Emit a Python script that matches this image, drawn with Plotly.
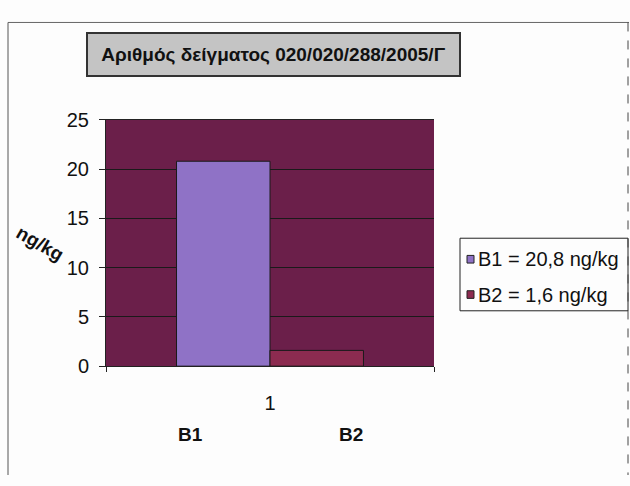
import plotly.graph_objects as go

# Sample results (ng/kg)
series_names = ["B1 = 20,8 ng/kg", "B2 = 1,6 ng/kg"]
series_values = [20.8, 1.6]
category = [1]
bar_colors = ["#8f72c6", "#8c2b50"]
bottom_labels = ["B1", "B2"]
title_text = "Αριθμός δείγματος 020/020/288/2005/Γ"
y_ticks = [0, 5, 10, 15, 20, 25]

W, H = 630, 486
FONT = "Liberation Sans, Arial, sans-serif"
INK = "#111111"


def px_x(v):
    return v / W


def px_y(v):
    return (H - v) / H


fig = go.Figure()
for name, val, col in zip(series_names, series_values, bar_colors):
    fig.add_trace(go.Bar(
        x=category, y=[val], name=name,
        marker=dict(color=col, line=dict(color="#1a1a1a", width=1)),
    ))

fig.update_layout(
    width=W, height=H,
    margin=dict(l=0, r=0, t=0, b=0),
    paper_bgcolor="#fdfdfd",
    plot_bgcolor="#6b1f4a",
    barmode="group",
    bargap=0.43,
    bargroupgap=0,
    font=dict(family=FONT, color=INK),
    showlegend=False,
    xaxis=dict(
        domain=[px_x(106), px_x(434)],
        range=[0.5, 1.5],
        tickvals=[1], ticktext=["1"],
        ticks="", showgrid=False,
        showline=True, linecolor="#222222", linewidth=1, mirror=True,
        tickfont=dict(size=20, family=FONT, color=INK),
        ticklabelstandoff=19,
        minor=dict(tickvals=[0.5, 1.5], ticks="outside", ticklen=5,
                   tickcolor="#222222", showgrid=False),
        zeroline=False,
    ),
    yaxis=dict(
        domain=[px_y(372), px_y(114)],
        range=[0, 25],
        tickvals=y_ticks,
        ticks="outside", ticklen=6, tickcolor="#222222",
        showgrid=True, gridcolor="#1a1a1a", gridwidth=1,
        showline=True, linecolor="#222222", linewidth=1,
        tickfont=dict(size=20, family=FONT, color=INK),
        ticklabelstandoff=6,
        zeroline=False,
    ),
)

# Chart title in a grey framed box
fig.add_annotation(
    text="<b>" + title_text + "</b>",
    xref="paper", yref="paper", x=px_x(273.5), y=px_y(45.5),
    xanchor="center", yanchor="middle", showarrow=False,
    font=dict(size=19, family=FONT, color=INK),
    bgcolor="#c4c4c4", bordercolor="#333333", borderwidth=2, borderpad=2,
    width=367, height=37,
)

# Rotated unit label for the value axis
fig.add_annotation(
    text="<b>ng/kg</b>", xref="paper", yref="paper",
    x=px_x(40), y=px_y(243), xanchor="center", yanchor="middle",
    showarrow=False, textangle=30,
    font=dict(size=19, family=FONT, color=INK),
)

# Sample labels under the chart
for lbl, cx in zip(bottom_labels, [190, 351]):
    fig.add_annotation(
        text="<b>" + lbl + "</b>", xref="paper", yref="paper",
        x=px_x(cx), y=px_y(444), xanchor="center", yanchor="middle",
        showarrow=False,
        font=dict(size=19, family=FONT, color=INK),
    )

# Legend box with a swatch and a label per series
fig.add_shape(type="rect", xref="paper", yref="paper",
              x0=px_x(460), x1=px_x(628), y0=px_y(314), y1=px_y(238),
              line=dict(color="#222222", width=1), fillcolor="#fdfdfd")
for i, (name, col) in enumerate(zip(series_names, bar_colors)):
    cy = 260 + 37 * i
    fig.add_shape(type="rect", xref="paper", yref="paper",
                  x0=px_x(467), x1=px_x(474), y0=px_y(cy + 4), y1=px_y(cy - 4),
                  line=dict(color="#222222", width=1), fillcolor=col)
    fig.add_annotation(
        text=name, xref="paper", yref="paper",
        x=px_x(476), y=px_y(cy), xanchor="left", yanchor="middle",
        showarrow=False, font=dict(size=20, family=FONT, color=INK),
    )

# Outer chart frame
fig.add_shape(type="line", xref="paper", yref="paper",
              x0=px_x(8), x1=px_x(629), y0=px_y(12), y1=px_y(12),
              line=dict(color="#666666", width=1))
fig.add_shape(type="line", xref="paper", yref="paper",
              x0=px_x(8), x1=px_x(8), y0=px_y(12), y1=0,
              line=dict(color="#555555", width=1))
fig.add_shape(type="line", xref="paper", yref="paper",
              x0=px_x(628), x1=px_x(628), y0=px_y(12), y1=0,
              line=dict(color="#444444", width=1, dash="dash"))

fig.write_html(
    "out.html",
    post_script="document.body.style.margin='0';",
)
